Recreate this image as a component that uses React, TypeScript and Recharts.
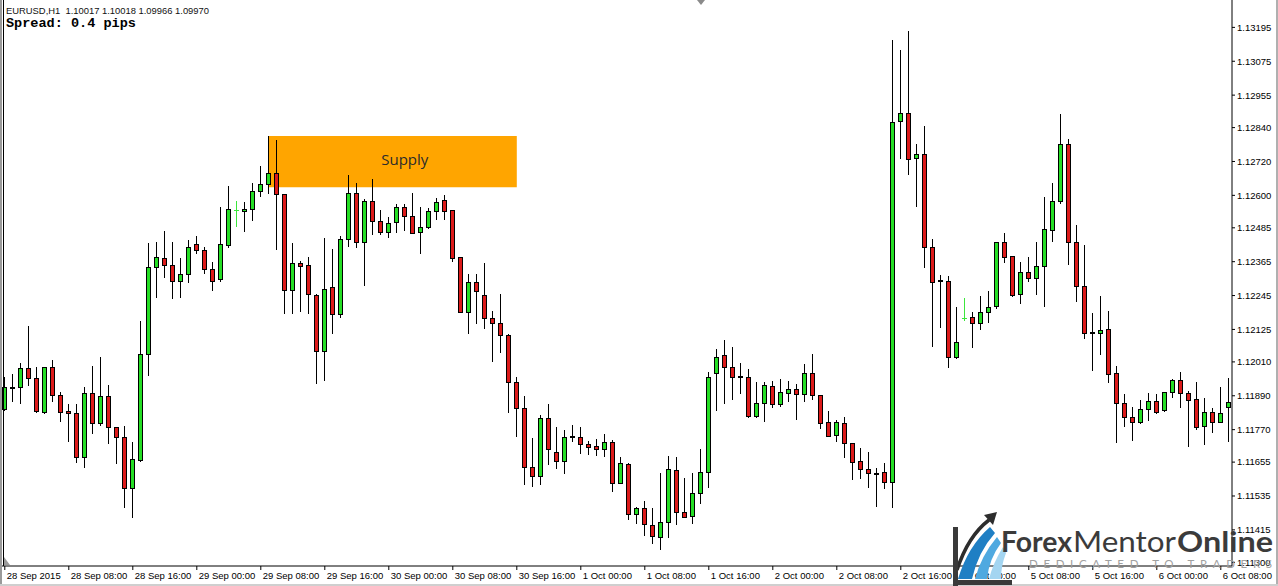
import React from 'react';
import { ComposedChart, Bar, XAxis, YAxis, ReferenceArea } from 'recharts';

// ---------- DATA (EURUSD H1, 28 Sep 2015 00:00 .. 6 Oct 2015 09:00) ----------
const opens = [
  1.11842, 1.11919, 1.11920, 1.11988, 1.11952, 1.11834, 1.11991, 1.11892, 1.11836, 1.11828,
  1.11672, 1.11899, 1.11795, 1.11889, 1.11781, 1.11743, 1.11562, 1.11663, 1.12037, 1.12345,
  1.12377, 1.12352, 1.12296, 1.12320, 1.12427, 1.12405, 1.12338, 1.12303, 1.12424, 1.12548,
  1.12546, 1.12551, 1.12617, 1.12639, 1.12678, 1.12604, 1.12264, 1.12359, 1.12352, 1.12247,
  1.12048, 1.12274, 1.12179, 1.12444, 1.12607, 1.12436, 1.12580, 1.12508, 1.12469, 1.12505,
  1.12560, 1.12528, 1.12469, 1.12489, 1.12546, 1.12583, 1.12547, 1.12381, 1.12186, 1.12292,
  1.12246, 1.12165, 1.12147, 1.12104, 1.11938, 1.11846, 1.11639, 1.11607, 1.11813, 1.11692,
  1.11660, 1.11747, 1.11745, 1.11719, 1.11712, 1.11701, 1.11725, 1.11582, 1.11649, 1.11470,
  1.11492, 1.11431, 1.11389, 1.11444, 1.11626, 1.11480, 1.11464, 1.11547, 1.11621, 1.11970,
  1.12033, 1.11991, 1.11959, 1.11956, 1.11820, 1.11863, 1.11925, 1.11860, 1.11899, 1.11913,
  1.11895, 1.11970, 1.11892, 1.11796, 1.11750, 1.11793, 1.11722, 1.11659, 1.11630, 1.11617,
  1.11619, 1.11584, 1.12864, 1.12891, 1.12731, 1.12746, 1.12416, 1.12299, 1.12298, 1.12029,
  1.12167, 1.12170, 1.12149, 1.12186, 1.12209, 1.12434, 1.12385, 1.12250, 1.12328, 1.12306,
  1.12350, 1.12477, 1.12580, 1.12781, 1.12436, 1.12279, 1.12115, 1.12114, 1.12126, 1.11970,
  1.11866, 1.11814, 1.11798, 1.11842, 1.11872, 1.11840, 1.11905, 1.11946, 1.11899, 1.11878,
  1.11783, 1.11832, 1.11798, 1.11849,
];

const highs = [
  1.11958, 1.11967, 1.12007, 1.12137, 1.11993, 1.11991, 1.12017, 1.11902, 1.11861, 1.11861,
  1.11920, 1.11996, 1.12029, 1.11928, 1.11781, 1.11783, 1.11726, 1.12156, 1.12430, 1.12434,
  1.12474, 1.12434, 1.12377, 1.12442, 1.12456, 1.12416, 1.12363, 1.12558, 1.12633, 1.12581,
  1.12578, 1.12645, 1.12704, 1.12810, 1.12796, 1.12604, 1.12430, 1.12369, 1.12381, 1.12251,
  1.12448, 1.12410, 1.12456, 1.12672, 1.12643, 1.12587, 1.12657, 1.12548, 1.12522, 1.12569,
  1.12569, 1.12607, 1.12558, 1.12554, 1.12590, 1.12601, 1.12547, 1.12381, 1.12322, 1.12322,
  1.12362, 1.12190, 1.12251, 1.12108, 1.11958, 1.11890, 1.11740, 1.11822, 1.11860, 1.11779,
  1.11767, 1.11787, 1.11779, 1.11731, 1.11736, 1.11754, 1.11733, 1.11674, 1.11651, 1.11497,
  1.11517, 1.11492, 1.11616, 1.11677, 1.11674, 1.11600, 1.11616, 1.11702, 1.11975, 1.12056,
  1.12088, 1.12062, 1.12005, 1.11984, 1.11940, 1.11940, 1.11942, 1.11948, 1.11943, 1.11932,
  1.12003, 1.12038, 1.11892, 1.11836, 1.11804, 1.11816, 1.11722, 1.11704, 1.11690, 1.11635,
  1.11651, 1.13150, 1.13115, 1.13182, 1.12782, 1.12846, 1.12445, 1.12318, 1.12316, 1.12204,
  1.12235, 1.12186, 1.12244, 1.12261, 1.12434, 1.12466, 1.12385, 1.12363, 1.12383, 1.12434,
  1.12593, 1.12643, 1.12888, 1.12799, 1.12495, 1.12424, 1.12182, 1.12244, 1.12190, 1.11996,
  1.11896, 1.11849, 1.11875, 1.11899, 1.11896, 1.11905, 1.11950, 1.11975, 1.11907, 1.11940,
  1.11883, 1.11848, 1.11920, 1.11952,
];

const lows = [
  1.11840, 1.11873, 1.11866, 1.11928, 1.11834, 1.11830, 1.11873, 1.11802, 1.11731, 1.11657,
  1.11639, 1.11757, 1.11787, 1.11724, 1.11653, 1.11497, 1.11460, 1.11660, 1.11964, 1.12241,
  1.12312, 1.12235, 1.12241, 1.12294, 1.12395, 1.12326, 1.12265, 1.12298, 1.12416, 1.12493,
  1.12475, 1.12513, 1.12599, 1.12609, 1.12409, 1.12184, 1.12182, 1.12190, 1.12184, 1.11934,
  1.11946, 1.12114, 1.12168, 1.12421, 1.12418, 1.12283, 1.12463, 1.12463, 1.12454, 1.12471,
  1.12477, 1.12466, 1.12397, 1.12486, 1.12515, 1.12515, 1.12369, 1.12186, 1.12114, 1.12147,
  1.12129, 1.12014, 1.12046, 1.11832, 1.11749, 1.11577, 1.11571, 1.11577, 1.11649, 1.11633,
  1.11616, 1.11731, 1.11688, 1.11684, 1.11680, 1.11678, 1.11553, 1.11582, 1.11453, 1.11441,
  1.11396, 1.11368, 1.11346, 1.11389, 1.11435, 1.11460, 1.11438, 1.11511, 1.11566, 1.11840,
  1.11866, 1.11880, 1.11901, 1.11814, 1.11816, 1.11802, 1.11852, 1.11855, 1.11873, 1.11809,
  1.11873, 1.11880, 1.11777, 1.11749, 1.11730, 1.11674, 1.11595, 1.11600, 1.11568, 1.11501,
  1.11562, 1.11495, 1.12731, 1.12675, 1.12563, 1.12345, 1.12067, 1.12135, 1.11993, 1.12023,
  1.12159, 1.12064, 1.12126, 1.12152, 1.12200, 1.12365, 1.12245, 1.12218, 1.12297, 1.12250,
  1.12209, 1.12439, 1.12572, 1.12357, 1.12227, 1.12094, 1.11982, 1.12038, 1.11940, 1.11728,
  1.11783, 1.11733, 1.11795, 1.11804, 1.11830, 1.11837, 1.11887, 1.11852, 1.11713, 1.11771,
  1.11719, 1.11763, 1.11798, 1.11731,
];

const closes = [
  1.11920, 1.11920, 1.11988, 1.11952, 1.11837, 1.11991, 1.11892, 1.11834, 1.11828, 1.11672,
  1.11899, 1.11795, 1.11889, 1.11781, 1.11743, 1.11562, 1.11665, 1.12037, 1.12345, 1.12381,
  1.12352, 1.12296, 1.12320, 1.12416, 1.12405, 1.12338, 1.12296, 1.12427, 1.12551, 1.12548,
  1.12551, 1.12617, 1.12639, 1.12678, 1.12604, 1.12264, 1.12359, 1.12350, 1.12251, 1.12048,
  1.12267, 1.12179, 1.12444, 1.12607, 1.12434, 1.12580, 1.12508, 1.12469, 1.12503, 1.12560,
  1.12527, 1.12466, 1.12487, 1.12546, 1.12578, 1.12544, 1.12379, 1.12186, 1.12292, 1.12260,
  1.12165, 1.12147, 1.12104, 1.11938, 1.11846, 1.11637, 1.11607, 1.11813, 1.11701, 1.11660,
  1.11743, 1.11743, 1.11718, 1.11710, 1.11701, 1.11725, 1.11582, 1.11651, 1.11470, 1.11492,
  1.11435, 1.11393, 1.11444, 1.11630, 1.11480, 1.11462, 1.11545, 1.11619, 1.11958, 1.12029,
  1.11991, 1.11958, 1.11957, 1.11818, 1.11863, 1.11928, 1.11860, 1.11903, 1.11913, 1.11895,
  1.11970, 1.11892, 1.11793, 1.11749, 1.11796, 1.11722, 1.11657, 1.11630, 1.11616, 1.11614,
  1.11584, 1.12861, 1.12891, 1.12728, 1.12745, 1.12416, 1.12294, 1.12297, 1.12029, 1.12080,
  1.12167, 1.12149, 1.12186, 1.12206, 1.12434, 1.12383, 1.12247, 1.12328, 1.12306, 1.12350,
  1.12480, 1.12580, 1.12781, 1.12436, 1.12279, 1.12111, 1.12112, 1.12123, 1.11966, 1.11863,
  1.11814, 1.11798, 1.11842, 1.11872, 1.11834, 1.11905, 1.11946, 1.11899, 1.11875, 1.11779,
  1.11832, 1.11798, 1.11828, 1.11867,
];

const xTickIdx = [0, 8, 16, 24, 32, 40, 48, 56, 64, 72, 80, 88, 96, 104, 112, 120, 128, 136, 144, 152];
const xTickLabels = [
  '28 Sep 2015', '28 Sep 08:00', '28 Sep 16:00', '29 Sep 00:00', '29 Sep 08:00', '29 Sep 16:00',
  '30 Sep 00:00', '30 Sep 08:00', '30 Sep 16:00', '1 Oct 00:00', '1 Oct 08:00', '1 Oct 16:00',
  '2 Oct 00:00', '2 Oct 08:00', '2 Oct 16:00', '5 Oct 00:00', '5 Oct 08:00', '5 Oct 16:00',
  '6 Oct 00:00', '6 Oct 08:00',
];
const yTicks = [
  1.13195, 1.13075, 1.12955, 1.1284, 1.1272, 1.126, 1.12485, 1.12365, 1.12245,
  1.12125, 1.1201, 1.1189, 1.1177, 1.11655, 1.11535, 1.11415, 1.113,
];

const supplyStart = 33;
const supplyEnd = 64;
const supplyLow = 1.12629;
const supplyHigh = 1.1281;
const supplyText = 'Supply';

const headerLine = 'EURUSD,H1  1.10017 1.10018 1.09966 1.09970';
const spreadLine = 'Spread: 0.4 pips';

// ---------- STYLE ----------
const W = 1278;
const H = 586;
const GREEN = '#25de25';
const RED = '#dc1a1a';
const DOJI = '#3ce63c';
const AXIS_FONT = '"Liberation Sans", Arial, sans-serif';

const data = opens.map((o, i) => ({
  i,
  open: o,
  high: highs[i],
  low: lows[i],
  close: closes[i],
}));

const labelByIdx: Record<number, string> = {};
xTickIdx.forEach((t, k) => {
  labelByIdx[t] = xTickLabels[k];
});

const Candle = (props: any) => {
  const { x, y, width, height, payload } = props;
  if (x == null || y == null || !payload) return null;
  const { open, high, low, close } = payload;
  const top = Math.min(y, y + height);
  const h = Math.abs(height);
  const ppu = high === low ? 0 : h / (high - low);
  const py = (v: number) => top + (high - v) * ppu;
  const cx = Math.round(x + width / 2);
  const yH = Math.round(py(high));
  const yL = Math.round(py(low));
  const yO = py(open);
  const yC = py(close);
  if (open === close) {
    const yy = Math.round(yO) + 0.5;
    return (
      <g>
        <line x1={cx + 0.5} x2={cx + 0.5} y1={yH} y2={yL + 1} stroke={DOJI} strokeWidth={1} />
        <line x1={cx - 2} x2={cx + 3} y1={yy} y2={yy} stroke={DOJI} strokeWidth={1} />
      </g>
    );
  }
  const bull = close > open;
  const bt = Math.round(Math.min(yO, yC));
  const bb = Math.max(bt + 1, Math.round(Math.max(yO, yC)));
  return (
    <g>
      <line x1={cx + 0.5} x2={cx + 0.5} y1={yH} y2={yL + 1} stroke="#000" strokeWidth={1} />
      <rect
        x={cx - 2 + 0.5}
        y={bt + 0.5}
        width={4}
        height={bb - bt}
        fill={bull ? GREEN : RED}
        stroke="#000"
        strokeWidth={1}
      />
    </g>
  );
};

const XTick = (props: any) => {
  const { x, y, payload } = props;
  const label = labelByIdx[payload.value] ?? '';
  return (
    <text x={x + 2} y={y + 7} fontSize={9.5} fontFamily={AXIS_FONT} fill="#000" textAnchor="start">
      {label}
    </text>
  );
};

const SupplyLabel = (props: any) => {
  const vb = props.viewBox || {};
  return (
    <text
      x={vb.x + vb.width / 2 + 12}
      y={vb.y + vb.height / 2 + 3}
      textAnchor="middle"
      fontSize={15}
      fontFamily='"Open Sans", sans-serif'
      fill="#2b2b2b"
    >
      {supplyText}
    </text>
  );
};

export default function App() {
  return (
    <div style={{ position: 'absolute', left: 0, top: 0, width: W, height: H, background: '#fff', overflow: 'hidden' }}>
      <ComposedChart width={W} height={H} data={data} margin={{ top: 0, right: 0, bottom: 0, left: 0 }}>
        <XAxis
          dataKey="i"
          type="number"
          domain={[-0.6, 153.4]}
          allowDataOverflow
          ticks={xTickIdx}
          interval={0}
          height={20}
          tickSize={4}
          tickMargin={2}
          axisLine={{ stroke: '#000' }}
          tickLine={{ stroke: '#000' }}
          tick={<XTick />}
        />
        <YAxis
          orientation="right"
          type="number"
          domain={[1.11287, 1.13292]}
          allowDataOverflow
          ticks={yTicks}
          interval={0}
          width={46}
          tickSize={3}
          tickMargin={2}
          axisLine={{ stroke: '#000' }}
          tickLine={{ stroke: '#000' }}
          tick={{ fill: '#000', fontSize: 9.5, fontFamily: AXIS_FONT }}
          tickFormatter={(v: number) => v.toFixed(5)}
        />
        <ReferenceArea
          x1={supplyStart}
          x2={supplyEnd}
          y1={supplyLow}
          y2={supplyHigh}
          fill="#FFA500"
          fillOpacity={1}
          stroke="none"
          label={SupplyLabel}
        />
        <Bar
          dataKey={(d: any) => [d.low, d.high]}
          shape={Candle}
          barSize={8}
          isAnimationActive={false}
        />
      </ComposedChart>

      <svg
        width={W}
        height={H}
        style={{ position: 'absolute', left: 0, top: 0, pointerEvents: 'none' }}
      >
        {/* window frame */}
        <rect x={0} y={0} width={2} height={H} fill="#9a9a9a" />
        <rect x={W - 2} y={0} width={2} height={H} fill="#b0b0b0" />
        <rect x={0} y={H - 2} width={W} height={2} fill="#cfcfcf" />
        <line x1={3.5} x2={3.5} y1={0} y2={566} stroke="#000" strokeWidth={1} />
        {/* markers */}
        <polygon points="697,0 705,0 701,5" fill="#8a8a8a" />
        <polygon points="4,557 4,565 10,565" fill="#9a9a9a" />
        {/* header */}
        <text x={6} y={14} fontSize={9.5} fontFamily={AXIS_FONT} fill="#111" textLength={203} lengthAdjust="spacingAndGlyphs" style={{ whiteSpace: 'pre' }}>
          {headerLine}
        </text>
        <text x={6} y={27} fontSize={13.6} fontWeight="bold" fontFamily='"Liberation Mono", monospace' fill="#000" textLength={130} lengthAdjust="spacingAndGlyphs" style={{ whiteSpace: 'pre' }}>
          {spreadLine}
        </text>
        {/* logo icon */}
        <path d="M958 579 Q968 546 990 527 L995 533 Q978 552 972 579 Z" fill="#1f7fc4" />
        <path d="M975 579 Q981 556 997 537 L1001 543 Q989 559 987 579 Z" fill="#4fa9e0" />
        <path d="M989 579 Q993 563 1003 547 L1006 553 Q1001 566 1001 579 Z" fill="#a3d5f1" />
        <path d="M957 570 Q968 536 989 520" stroke="#2d2d2d" strokeWidth={3.5} fill="none" />
        <polygon points="997,512 984,515 993,525" fill="#2d2d2d" />
        <rect x={953} y={527} width={5} height={59} fill="#3a3a3a" />
        <rect x={953} y={580} width={59} height={5} fill="#3a3a3a" />
        {/* logo text */}
        <text x={1001} y={552} fontSize={29} fontWeight="bold" fontFamily="Lato, sans-serif" fill="#3b3b3b" textLength={71} lengthAdjust="spacingAndGlyphs">Forex</text>
        <text x={1073} y={552} fontSize={29} fontFamily="Lato, sans-serif" fill="#3b3b3b" textLength={103} lengthAdjust="spacingAndGlyphs">Mentor</text>
        <text x={1177} y={552} fontSize={29} fontWeight="bold" fontFamily="Lato, sans-serif" fill="#3b3b3b" textLength={96} lengthAdjust="spacingAndGlyphs">Online</text>
        <text x={1029} y={568} fontSize={11.5} fontFamily="Lato, sans-serif" fill="#a0a0a0" textLength={243} lengthAdjust="spacing">DEDICATED TO TRADERS</text>
      </svg>
    </div>
  );
}
